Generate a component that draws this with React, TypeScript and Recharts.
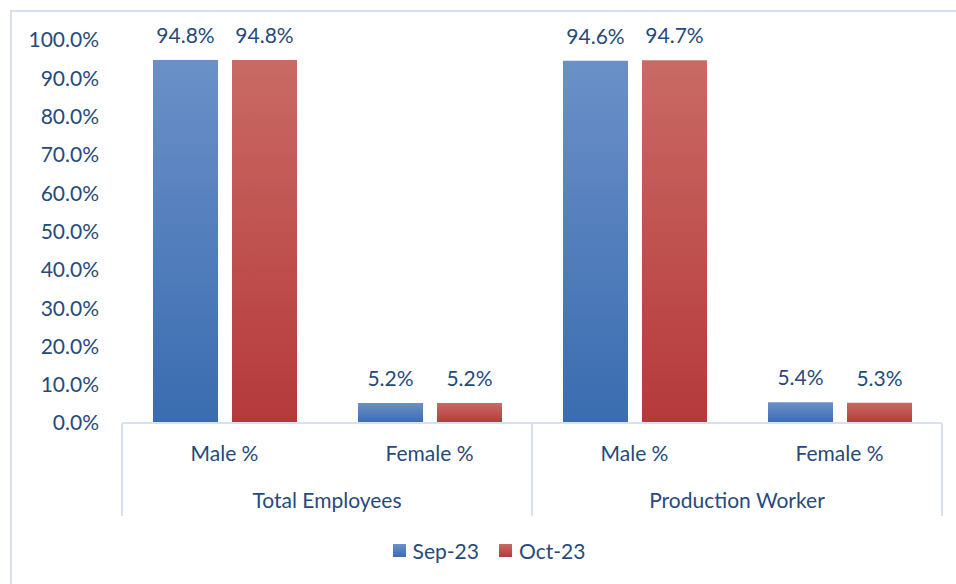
import { BarChart, Bar, XAxis, YAxis, Legend, LabelList } from "recharts";

// values (percent)
const subCategories = ["Male %", "Female %", "Male %", "Female %"];
const groups = ["Total Employees", "Total Employees", "Production Worker", "Production Worker"];
const sep23 = [94.8, 5.2, 94.6, 5.4];
const oct23 = [94.8, 5.2, 94.7, 5.3];
const yTicks = [0, 10, 20, 30, 40, 50, 60, 70, 80, 90, 100];

const data = subCategories.map((sub, i) => ({
  sub,
  group: groups[i],
  sep: sep23[i],
  oct: oct23[i],
}));

const FONT = "Lato, 'Open Sans', sans-serif";
const FS = 21;
const TEXT = "#264a7c";
const LINE = "#d6e0f0";

const pct = (v: number) => `${Number(v).toFixed(1)}%`;

function GroupTick(props: any) {
  const { x, y, payload } = props;
  const half = payload?.offset ?? 205;
  return (
    <g>
      <line x1={x - half} x2={x - half} y1={y - 45} y2={y + 48} stroke={LINE} strokeWidth={2} />
      <line x1={x + half} x2={x + half} y1={y - 45} y2={y + 48} stroke={LINE} strokeWidth={2} />
      <text x={x} y={y + 40} textAnchor="middle" fill={TEXT} fontSize={FS} fontFamily={FONT}>
        {payload.value}
      </text>
    </g>
  );
}

function LegendContent() {
  const items = [
    { name: "Sep-23", fill: "url(#gBlue)" },
    { name: "Oct-23", fill: "url(#gRed)" },
  ];
  return (
    <div
      style={{
        display: "flex",
        justifyContent: "center",
        gap: 20,
        paddingLeft: 36,
        fontFamily: FONT,
        fontSize: FS,
        color: TEXT,
      }}
    >
      {items.map((it) => (
        <div key={it.name} style={{ display: "flex", alignItems: "center", gap: 7 }}>
          <svg width={13} height={13}>
            <rect width={13} height={13} fill={it.fill} />
          </svg>
          <span>{it.name}</span>
        </div>
      ))}
    </div>
  );
}

export default function App() {
  return (
    <div style={{ position: "absolute", left: 0, top: 0, width: 956, height: 584, overflow: "hidden", background: "#fff" }}>
      <div
        style={{
          position: "absolute",
          left: 10,
          top: 10,
          width: 1000,
          height: 1000,
          borderLeft: `2px solid ${LINE}`,
          borderTop: `2px solid ${LINE}`,
        }}
      />
      <div style={{ position: "absolute", left: 0, top: 0 }}>
        <BarChart
          width={956}
          height={584}
          data={data}
          margin={{ top: 40, right: 14, left: 0, bottom: 41 }}
          barGap={14}
          barCategoryGap={31}
        >
          <defs>
            <linearGradient id="gBlue" x1="0" y1="0" x2="0" y2="1">
              <stop offset="0%" stopColor="#6b90c8" />
              <stop offset="100%" stopColor="#3a6cb0" />
            </linearGradient>
            <linearGradient id="gRed" x1="0" y1="0" x2="0" y2="1">
              <stop offset="0%" stopColor="#c96a64" />
              <stop offset="100%" stopColor="#b5393a" />
            </linearGradient>
          </defs>
          <XAxis
            dataKey="sub"
            height={45}
            axisLine={{ stroke: LINE, strokeWidth: 2 }}
            tickLine={false}
            tickSize={0}
            tickMargin={23}
            tick={{ fill: TEXT, fontSize: FS, fontFamily: FONT }}
          />
          <XAxis
            dataKey="group"
            xAxisId="group"
            allowDuplicatedCategory={false}
            height={50}
            axisLine={false}
            tickLine={false}
            tickSize={0}
            tickMargin={0}
            tick={<GroupTick />}
          />
          <YAxis
            domain={[0, 100]}
            ticks={yTicks}
            width={122}
            axisLine={false}
            tickLine={false}
            tickSize={0}
            tickMargin={23}
            tickFormatter={pct}
            tick={{ fill: TEXT, fontSize: FS, fontFamily: FONT }}
          />
          <Legend verticalAlign="bottom" content={<LegendContent />} wrapperStyle={{ bottom: 21 }} />
          <Bar dataKey="sep" name="Sep-23" fill="url(#gBlue)" isAnimationActive={false}>
            <LabelList dataKey="sep" position="top" offset={17} formatter={pct} fill={TEXT} fontSize={FS} fontFamily={FONT} />
          </Bar>
          <Bar dataKey="oct" name="Oct-23" fill="url(#gRed)" isAnimationActive={false}>
            <LabelList dataKey="oct" position="top" offset={17} formatter={pct} fill={TEXT} fontSize={FS} fontFamily={FONT} />
          </Bar>
        </BarChart>
      </div>
    </div>
  );
}
